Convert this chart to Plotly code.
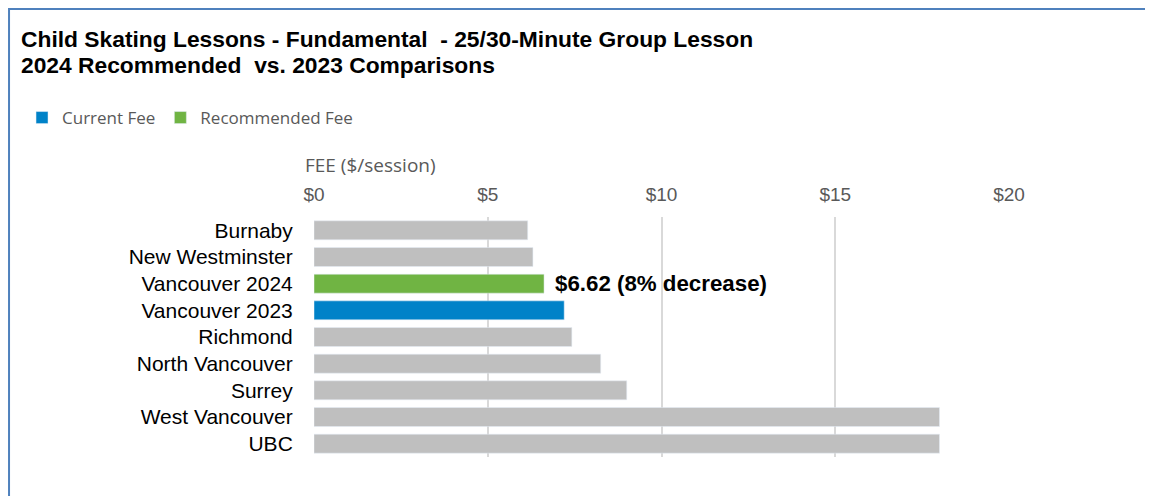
import plotly.graph_objects as go

# data
cities = ["Burnaby", "New Westminster", "Vancouver 2024", "Vancouver 2023", "Richmond",
          "North Vancouver", "Surrey", "West Vancouver", "UBC"]
fees = [6.15, 6.30, 6.62, 7.20, 7.42, 8.25, 9.00, 18.00, 18.00]
current_city = "Vancouver 2023"
recommended_city = "Vancouver 2024"
x_ticks = [0, 5, 10, 15, 20]
x_ticktext = ["$" + str(v) for v in x_ticks]

GRAY = "#BFBFBF"
BLUE = "#0082C8"
GREEN = "#70B443"
TXT_GRAY = "#595959"

other = [(c, f) for c, f in zip(cities, fees) if c not in (current_city, recommended_city)]
cur_fee = fees[cities.index(current_city)]
rec_fee = fees[cities.index(recommended_city)]

fig = go.Figure()
fig.add_trace(go.Bar(
    y=[c for c, _ in other], x=[f for _, f in other], orientation="h",
    marker_color=GRAY, width=0.71, showlegend=False, name="Other",
))
fig.add_trace(go.Bar(
    y=[current_city], x=[cur_fee], orientation="h",
    marker_color=BLUE, width=0.71, name="Current Fee",
))
fig.add_trace(go.Bar(
    y=[recommended_city], x=[rec_fee], orientation="h",
    marker_color=GREEN, width=0.71, name="Recommended Fee",
))

# label next to the recommended bar
pct = round((cur_fee - rec_fee) / cur_fee * 100)
fig.add_annotation(
    x=rec_fee, y=recommended_city, xref="x", yref="y",
    text=f"<b>${rec_fee:.2f} ({pct}% decrease)</b>",
    showarrow=False, xanchor="left", xshift=9,
    font=dict(family="Liberation Sans, Arial", size=22.3, color="black"),
)

# title lines
title_font = dict(family="Liberation Sans, Arial", size=22.8, color="black")
fig.add_annotation(
    x=-0.4245, y=1.742, xref="paper", yref="paper", xanchor="left", yanchor="middle",
    text="<b>Child Skating Lessons - Fundamental  - 25/30-Minute Group Lesson</b>",
    showarrow=False, font=title_font,
)
fig.add_annotation(
    x=-0.4245, y=1.633, xref="paper", yref="paper", xanchor="left", yanchor="middle",
    text="<b>2024 Recommended  vs. 2023 Comparisons</b>",
    showarrow=False, font=title_font,
)

# axis title
fig.add_annotation(
    x=-0.016, y=1.2167, xref="paper", yref="paper", xanchor="left", yanchor="middle",
    text="FEE ($/session)", showarrow=False,
    font=dict(family="Open Sans", size=19, color=TXT_GRAY),
)

# outer frame
fig.add_shape(
    type="rect", xref="paper", yref="paper",
    x0=-0.4388, x1=1.3, y0=-0.3, y1=1.8667,
    line=dict(color="#4F81BD", width=2), fillcolor="rgba(0,0,0,0)",
)

fig.update_layout(
    width=1145, height=488,
    margin=dict(l=306, r=144, t=209, b=39),
    paper_bgcolor="white", plot_bgcolor="white",
    barmode="overlay",
    showlegend=True,
    legend=dict(
        orientation="h", x=-0.4201, y=1.4125, xanchor="left", yanchor="middle",
        font=dict(family="Open Sans", size=17, color=TXT_GRAY),
        traceorder="normal",
    ),
    xaxis=dict(
        side="top", range=[0, 20], tickvals=x_ticks, ticktext=x_ticktext,
        showgrid=True, gridcolor="#D9D9D9", gridwidth=1.5, zeroline=False,
        ticks="outside", ticklen=7, tickcolor="rgba(0,0,0,0)",
        tickfont=dict(family="Liberation Sans, Arial", size=19, color=TXT_GRAY),
        showline=False, fixedrange=True,
    ),
    yaxis=dict(
        categoryorder="array", categoryarray=cities, autorange="reversed",
        ticks="outside", ticklen=16, tickcolor="rgba(0,0,0,0)",
        tickfont=dict(family="Liberation Sans, Arial", size=21, color="black"),
        showgrid=False, showline=False, fixedrange=True,
    ),
)

fig.write_html("out.html")
